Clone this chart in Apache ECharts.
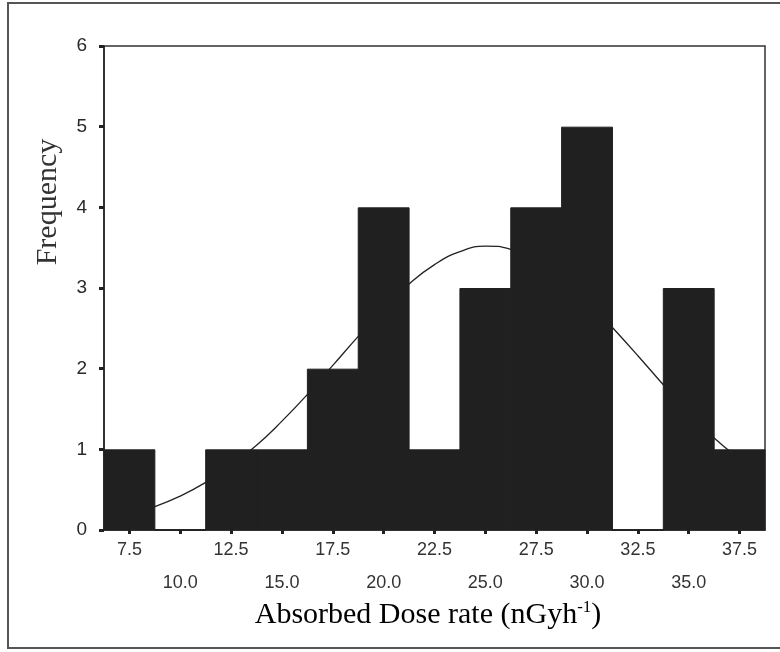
<!DOCTYPE html>
<html><head><meta charset="utf-8">
<script src="https://cdn.jsdelivr.net/npm/echarts@6/dist/echarts.min.js"></script>
<style>html,body{margin:0;padding:0;background:#fff}#c{width:780px;height:652px}</style>
</head><body><div id="c"></div>
<script>
// Bin centres (nGyh-1) and frequencies
const binCenters = [7.5, 10.0, 12.5, 15.0, 17.5, 20.0, 22.5, 25.0, 27.5, 30.0, 32.5, 35.0, 37.5];
const frequencies = [1, 0, 1, 1, 2, 4, 1, 3, 4, 5, 0, 3, 1];
// Normal curve
const curveX = [6.25, 7.5, 8.75, 10, 11.25, 12.5, 13.75, 15, 16.25, 17.5, 18.75, 20, 21.25, 22.5, 23.75, 25, 26.25, 27.5, 28.75, 30, 31.25, 32.5, 33.75, 35, 36.25, 37.5, 38.75];
const curveY = [0.13, 0.20, 0.29, 0.42, 0.59, 0.80, 1.05, 1.35, 1.68, 2.04, 2.40, 2.74, 3.05, 3.29, 3.45, 3.52, 3.48, 3.35, 3.14, 2.85, 2.51, 2.16, 1.80, 1.45, 1.14, 0.88, 0.65];
const yTicks = [0, 1, 2, 3, 4, 5, 6];

const labelFont = '"Liberation Sans", Arial, sans-serif';
const chart = echarts.init(document.getElementById('c'), null, {renderer: 'canvas'});
chart.setOption({
  animation: false,
  backgroundColor: '#fff',
  grid: {left: 104, right: 15, top: 46, bottom: 122, show: true, borderColor: '#333', borderWidth: 1.5, backgroundColor: 'transparent'},
  xAxis: [{
    type: 'category',
    data: binCenters.map(v => v.toFixed(1)),
    boundaryGap: true,
    axisLine: {show: true, lineStyle: {color: '#222', width: 1.5}},
    axisTick: {show: true, alignWithLabel: true, length: 4, lineStyle: {color: '#222', width: 3}},
    axisLabel: {
      interval: 0, margin: 11,
      formatter: (v, i) => i % 2 === 0 ? '{a|' + v + '}' : '{b|' + v + '}',
      rich: {
        a: {fontFamily: labelFont, fontSize: 18, color: '#333', height: 18},
        b: {fontFamily: labelFont, fontSize: 18, color: '#333', padding: [33, 0, 0, 0]}
      }
    },
    splitLine: {show: false}
  }, {
    type: 'value', min: 6.25, max: 38.75, show: false
  }],
  yAxis: {
    type: 'value', min: 0, max: 6, interval: 1,
    axisLine: {show: true, lineStyle: {color: '#222', width: 1.5}},
    axisTick: {show: true, length: 5, lineStyle: {color: '#222', width: 3}},
    axisLabel: {fontFamily: labelFont, fontSize: 19, color: '#2a2a2a', margin: 17},
    splitLine: {show: false}
  },
  series: [{
    type: 'line',
    xAxisIndex: 1,
    data: curveX.map((x, i) => [x, curveY[i]]),
    smooth: true,
    showSymbol: false,
    lineStyle: {color: '#222', width: 1.3},
    z: 1
  }, {
    type: 'bar',
    xAxisIndex: 0,
    data: frequencies,
    barWidth: '102%',
    itemStyle: {color: '#202020', borderColor: '#202020', borderWidth: 1},
    z: 2
  }],
  graphic: [
    {type: 'rect', shape: {x: 8, y: 3, width: 790, height: 645}, style: {fill: 'none', stroke: '#555', lineWidth: 2}, silent: true},
    {type: 'text', x: 48, y: 202, rotation: Math.PI / 2, style: {text: 'Frequency', font: '30px "Liberation Serif", "Times New Roman", serif', fill: '#333', textAlign: 'center', textVerticalAlign: 'middle'}},
    {type: 'text', x: 428, y: 615, style: {
      text: '{t|Absorbed Dose rate (nGyh}{s|-1}{t|)}',
      textAlign: 'center', textVerticalAlign: 'middle',
      rich: {
        t: {fontFamily: '"Liberation Serif", "Times New Roman", serif', fontSize: 30, color: '#333'},
        s: {fontFamily: '"Liberation Serif", "Times New Roman", serif', fontSize: 17, color: '#333', verticalAlign: 'top', padding: [0, 0, 14, 0]}
      }
    }}
  ]
});
</script></body></html>
